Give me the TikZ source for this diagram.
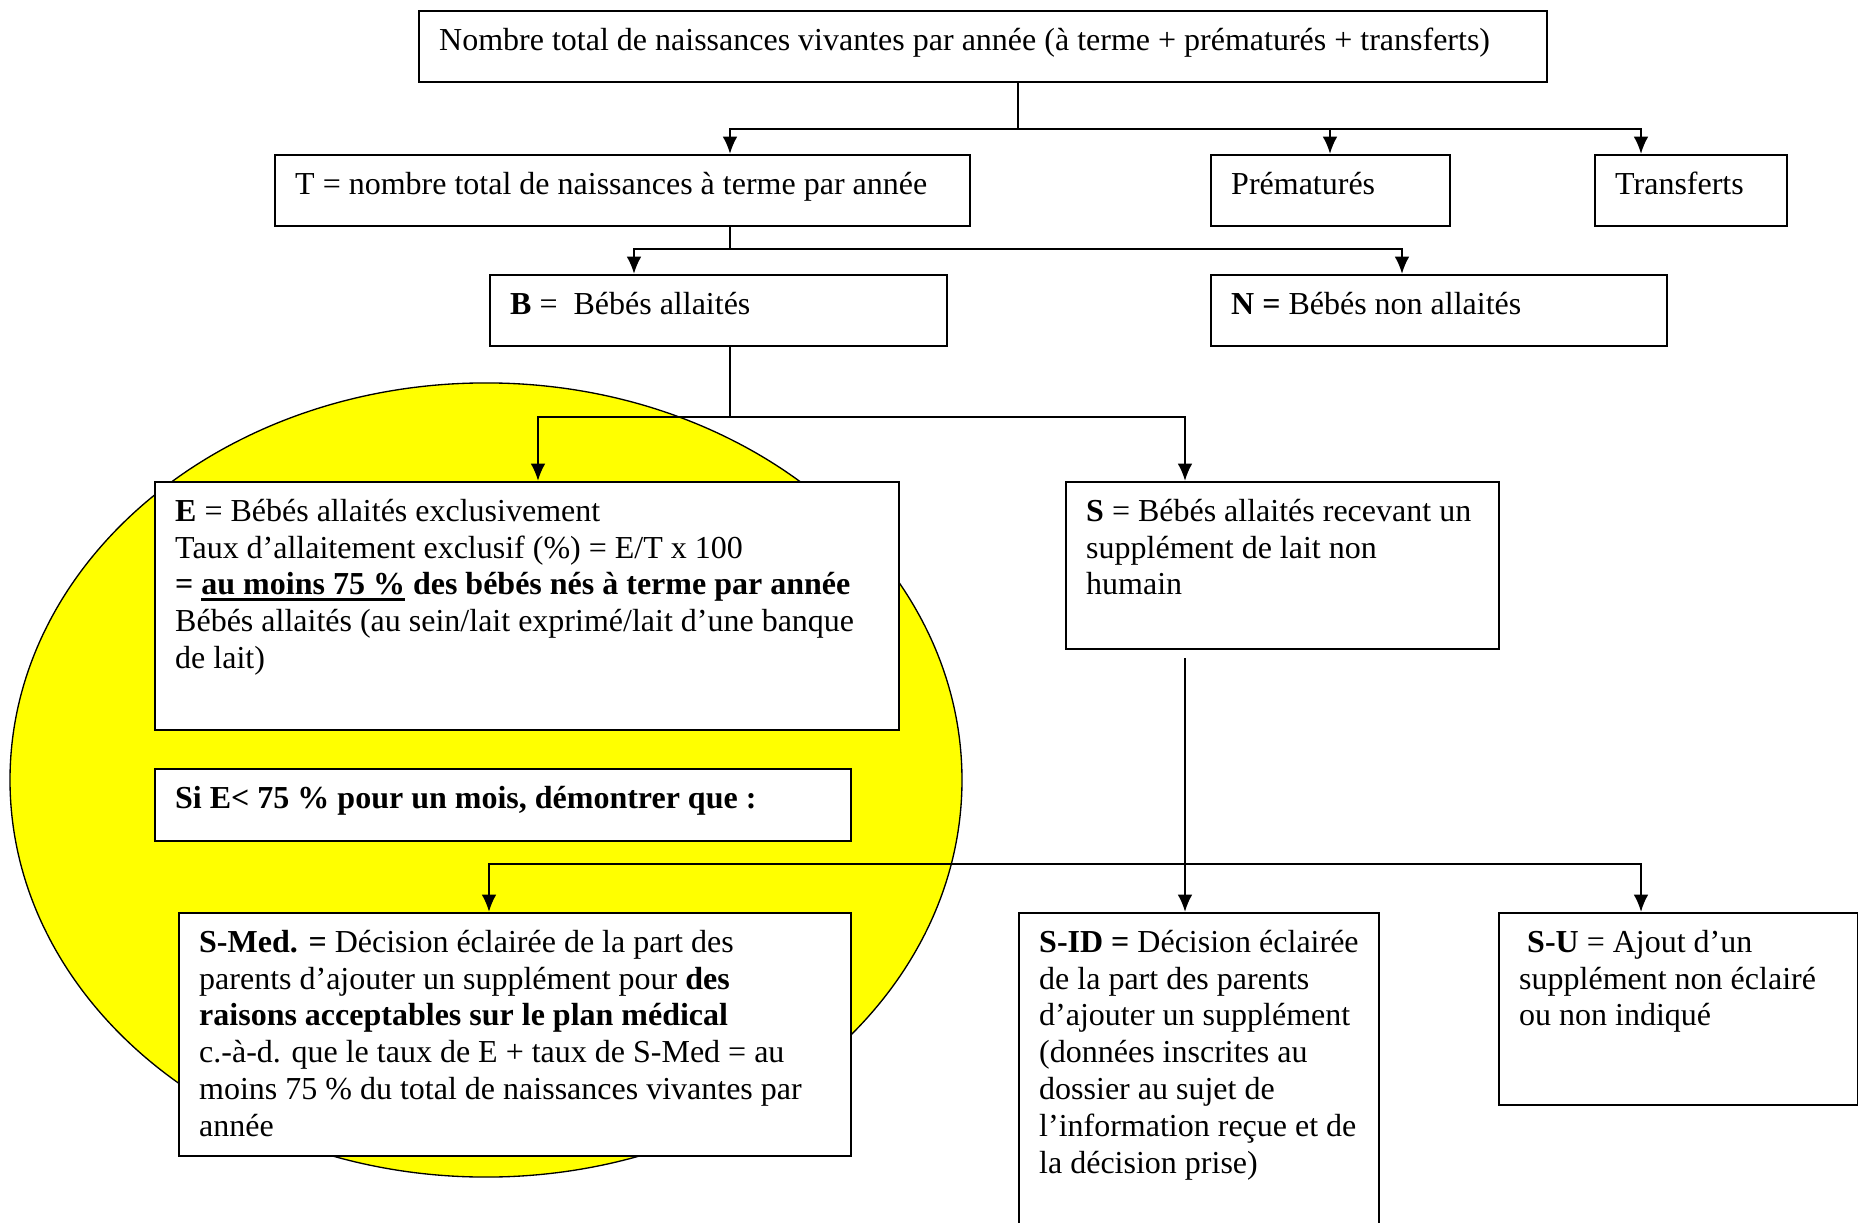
\documentclass[tikz,border=0pt]{standalone}
\usepackage{fontspec}
\setmainfont{Liberation Serif}
\usetikzlibrary{arrows.meta}

\definecolor{jaune}{RGB}{255,255,0}
\newlength\px
\setlength\px{0.375pt}
\newcommand\boite[3]{\parbox[t][\dimexpr#2\px-10pt\relax][t]{\dimexpr#1\px-15pt\relax}{\raggedright\strut#3}}
\newsavebox\soulbox
\newcommand\souligne[1]{\sbox\soulbox{#1}\rlap{\rule[-2.4pt]{\wd\soulbox}{1.1pt}}\usebox\soulbox}

\tikzset{
  cadre/.style={draw, line width=0.9pt, fill=white, anchor=north west,
    inner xsep=7.5pt, inner ysep=5pt, font=\fontsize{12}{13.8}\selectfont},
  lien/.style={line width=0.8pt},
  fleche/.style={line width=0.8pt, -{Latex[length=6.5pt,width=5.5pt]}}
}

\begin{document}
\begin{tikzpicture}[x=0.375pt, y=-0.375pt]
  \useasboundingbox (0,0) rectangle (1858,1223);

  % fond jaune
  \draw[fill=jaune, line width=0.5pt] (486,780) ellipse [x radius=178.5pt, y radius=148.9pt];

  % cases
  \node[cadre] (titre) at (418,10) {\boite{1128}{71}{Nombre total de naissances vivantes par année (à terme + prématurés + transferts)}};
  \node[cadre] (T) at (274,154) {\boite{695}{71}{T = nombre total de naissances à terme par année}};
  \node[cadre] (prem) at (1210,154) {\boite{239}{71}{Prématurés}};
  \node[cadre] (transf) at (1594,154) {\boite{192}{71}{Transferts}};
  \node[cadre] (B) at (489,274) {\boite{457}{71}{\textbf{B} =\ \ Bébés allaités}};
  \node[cadre] (N) at (1210,274) {\boite{456}{71}{\textbf{N =} Bébés non allaités}};
  \node[cadre] (E) at (154,481) {\boite{744}{248}{\textbf{E} = Bébés allaités exclusivement\\
    Taux d’allaitement exclusif (\%) = E/T x 100\\
    \textbf{= \souligne{au moins 75 \%} des bébés nés à terme par année}\\
    Bébés allaités (au sein/lait exprimé/lait d’une banque\\
    de lait)}};
  \node[cadre] (si) at (154,768) {\boite{696}{72}{\textbf{Si E< 75 \% pour un mois, démontrer que :}}};
  \node[cadre] (S) at (1065,481) {\boite{433}{167}{\textbf{S} = Bébés allaités recevant un\\
    supplément de lait non\\
    humain}};
  \node[cadre] (SMed) at (178,912) {\boite{672}{243}{\textbf{S-Med. =} Décision éclairée de la part des\\
    parents d’ajouter un supplément pour \textbf{des}\\
    \textbf{raisons acceptables sur le plan médical}\\
    c.-à-d. que le taux de E + taux de S-Med = au\\
    moins 75 \% du total de naissances vivantes par\\
    année}};
  \node[cadre] (SID) at (1018,912) {\boite{360}{330}{\textbf{S-ID =} Décision éclairée\\
    de la part des parents\\
    d’ajouter un supplément\\
    (données inscrites au\\
    dossier au sujet de\\
    l’information reçue et de\\
    la décision prise)}};
  \node[cadre] (SU) at (1498,912) {\boite{359}{192}{\hspace{3pt}\textbf{S-U} = Ajout d’un\\
    supplément non éclairé\\
    ou non indiqué}};

  % liaisons
  \draw[lien] (1018,0 |- titre.south) -- (1018,129) coordinate (j1);
  \draw[fleche] (j1) -| (730,0 |- T.north);
  \draw[fleche] (j1) -| (1330,0 |- prem.north);
  \draw[fleche] (j1) -| (1641,0 |- transf.north);

  \draw[lien] (730,0 |- T.south) -- (730,249) coordinate (j2);
  \draw[fleche] (j2) -| (634,0 |- B.north);
  \draw[fleche] (j2) -| (1402,0 |- N.north);

  \draw[lien] (730,0 |- B.south) -- (730,417) coordinate (j3);
  \draw[fleche] (j3) -| (538,0 |- E.north);
  \draw[fleche] (j3) -| (1185,0 |- S.north);

  \draw[fleche] (1185,658) -- (1185,0 |- SID.north);
  \coordinate (j4) at (1185,864);
  \draw[fleche] (j4) -| (489,0 |- SMed.north);
  \draw[fleche] (j4) -| (1641,0 |- SU.north);
\end{tikzpicture}
\end{document}
